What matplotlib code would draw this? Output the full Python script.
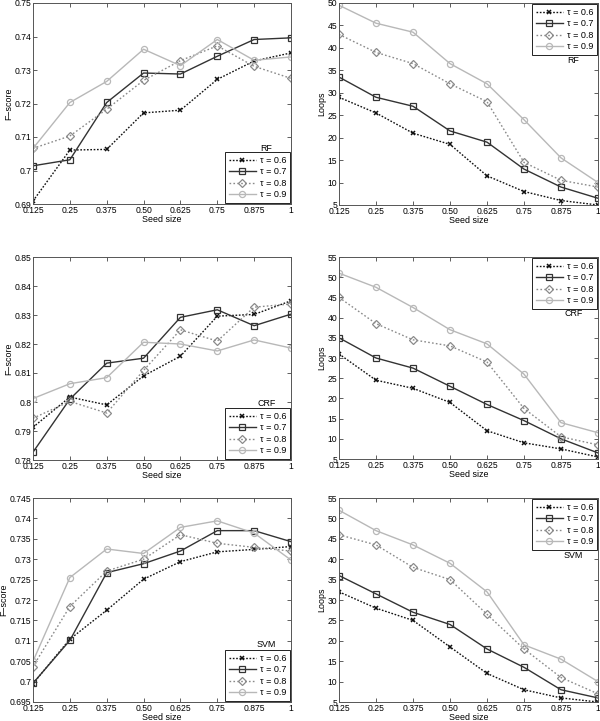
import matplotlib
matplotlib.use("Agg")
import matplotlib.pyplot as plt

plt.rcParams['font.family'] = ['Liberation Sans', 'DejaVu Sans']

seed = [0.125, 0.25, 0.375, 0.5, 0.625, 0.75, 0.875, 1.0]
seed_labels = ["0.125", "0.25", "0.375", "0.50", "0.625", "0.75", "0.875", "1"]
taus = ["τ = 0.6", "τ = 0.7", "τ = 0.8", "τ = 0.9"]

rf_f = [
    [0.6909, 0.7061, 0.7063, 0.7172, 0.7180, 0.7272, 0.7327, 0.7351],
    [0.7014, 0.7032, 0.7203, 0.7291, 0.7288, 0.7341, 0.7391, 0.7396],
    [0.7066, 0.7103, 0.7183, 0.7269, 0.7328, 0.7372, 0.7311, 0.7275],
    [0.7066, 0.7203, 0.7266, 0.7362, 0.7313, 0.7391, 0.7329, 0.7339],
]
rf_loops = [
    [29, 25.5, 21, 18.5, 11.5, 8, 6, 5],
    [33.5, 29, 27, 21.5, 19, 13, 9, 6.5],
    [43, 39, 36.5, 32, 28, 14.5, 10.5, 9],
    [49.5, 45.5, 43.5, 36.5, 32, 24, 15.5, 10],
]
crf_f = [
    [0.7913, 0.8017, 0.7990, 0.8090, 0.8158, 0.8296, 0.8302, 0.8349],
    [0.7827, 0.8010, 0.8134, 0.8151, 0.8292, 0.8318, 0.8263, 0.8303],
    [0.7944, 0.8002, 0.7962, 0.8109, 0.8249, 0.8210, 0.8327, 0.8338],
    [0.8012, 0.8063, 0.8084, 0.8206, 0.8200, 0.8176, 0.8214, 0.8186],
]
crf_loops = [
    [31, 24.5, 22.5, 19, 12, 9, 7.5, 5.5],
    [35, 30, 27.5, 23, 18.5, 14.5, 10, 6.5],
    [45, 38.5, 34.5, 33, 29, 17.5, 10.5, 8.5],
    [51, 47.5, 42.5, 37, 33.5, 26, 14, 11.5],
]
svm_f = [
    [0.6995, 0.7104, 0.7175, 0.7251, 0.7294, 0.7318, 0.7324, 0.7331],
    [0.6996, 0.7101, 0.7267, 0.7289, 0.7320, 0.7370, 0.7370, 0.7343],
    [0.7037, 0.7184, 0.7271, 0.7300, 0.7360, 0.7339, 0.7329, 0.7320],
    [0.7050, 0.7255, 0.7325, 0.7314, 0.7378, 0.7394, 0.7364, 0.7298],
]
svm_loops = [
    [32, 28, 25, 18.5, 12, 8, 6, 5],
    [36, 31.5, 27, 24, 18, 13.5, 8, 6],
    [46, 43.5, 38, 35, 26.5, 18, 11, 7],
    [52, 47, 43.5, 39, 32, 19, 15.5, 10],
]

rf_f_ticks = [0.69, 0.70, 0.71, 0.72, 0.73, 0.74, 0.75]
rf_f_labels = ["0.69", "0.7", "0.71", "0.72", "0.73", "0.74", "0.75"]
crf_f_ticks = [0.78, 0.79, 0.80, 0.81, 0.82, 0.83, 0.84, 0.85]
crf_f_labels = ["0.78", "0.79", "0.8", "0.81", "0.82", "0.83", "0.84", "0.85"]
svm_f_ticks = [0.695, 0.700, 0.705, 0.710, 0.715, 0.720, 0.725, 0.730, 0.735, 0.740, 0.745]
svm_f_labels = ["0.695", "0.7", "0.705", "0.71", "0.715", "0.72", "0.725", "0.73", "0.735", "0.74", "0.745"]
loops_ticks_50 = [5, 10, 15, 20, 25, 30, 35, 40, 45, 50]
loops_ticks_55 = [5, 10, 15, 20, 25, 30, 35, 40, 45, 50, 55]

styles = [
    dict(color="#111111", linestyle=(0, (1.2, 1.2)), marker="x", markersize=3.2, markeredgewidth=1.1),
    dict(color="#333333", linestyle="-", marker="s", markersize=3.8, markerfacecolor="none", markeredgewidth=0.9),
    dict(color="#8a8a8a", linestyle=(0, (1.2, 1.6)), marker="D", markersize=3.8, markerfacecolor="none", markeredgewidth=0.9),
    dict(color="#b8b8b8", linestyle="-", marker="o", markersize=4.4, markerfacecolor="none", markeredgewidth=0.9),
]

fig = plt.figure(figsize=(6.0, 7.21), dpi=100)
W, H = 600.0, 721.0

def make_ax(l, r, t, b):
    return fig.add_axes([l / W, 1 - b / H, (r - l) / W, (b - t) / H])

panels = [
    (rf_f, rf_f_ticks, rf_f_labels, "F\u2212score", "RF", (33, 291, 3, 204), "lower", 0.274),
    (rf_loops, loops_ticks_50, [str(v) for v in loops_ticks_50], "Loops", "RF", (339, 598, 3, 205), "upper", 0.714),
    (crf_f, crf_f_ticks, crf_f_labels, "F\u2212score", "CRF", (33, 291, 257, 460), "lower", 0.28),
    (crf_loops, loops_ticks_55, [str(v) for v in loops_ticks_55], "Loops", "CRF", (339, 598, 257, 459), "upper", 0.718),
    (svm_f, svm_f_ticks, svm_f_labels, "F\u2212score", "SVM", (33, 291, 498, 702), "lower", 0.28),
    (svm_loops, loops_ticks_55, [str(v) for v in loops_ticks_55], "Loops", "SVM", (339, 598, 498, 702), "upper", 0.716),
]

leg_kw = dict(fontsize=6.5, handlelength=3.0, handletextpad=0.45, labelspacing=0.28,
              borderpad=0.4, borderaxespad=0.12, fancybox=False, framealpha=1)

for data, yt, yl, ylab, name, box, lpos, ty in panels:
    ax = make_ax(*box)
    for series, lab, st in zip(data, taus, styles):
        ax.plot(seed, series, label=lab, linewidth=1.0, **st)
    ax.set_xlim(seed[0], seed[-1])
    ax.set_ylim(yt[0], yt[-1])
    ax.set_xticks(seed)
    ax.set_xticklabels(seed_labels)
    ax.set_yticks(yt)
    ax.set_yticklabels(yl)
    ax.tick_params(direction="in", length=3, width=0.6, labelsize=6.2, pad=1.2,
                   top=True, right=True, colors="#444444", labelcolor="black")
    for sp in ax.spines.values():
        sp.set_color("#555555")
        sp.set_linewidth(0.7)
    ax.set_xlabel("Seed size", fontsize=6.4, labelpad=0.3)
    ax.set_ylabel(ylab, fontsize=6.4, labelpad=1)
    if lpos == "lower":
        leg = ax.legend(loc="lower right", **leg_kw)
    else:
        leg = ax.legend(loc="upper right", **leg_kw)
    leg.get_frame().set_edgecolor("#222222")
    leg.get_frame().set_linewidth(0.7)
    ax.text(0.905, ty, name, transform=ax.transAxes, fontsize=6.4,
            ha="center", va="center")

fig.savefig("out.png", dpi=100)
